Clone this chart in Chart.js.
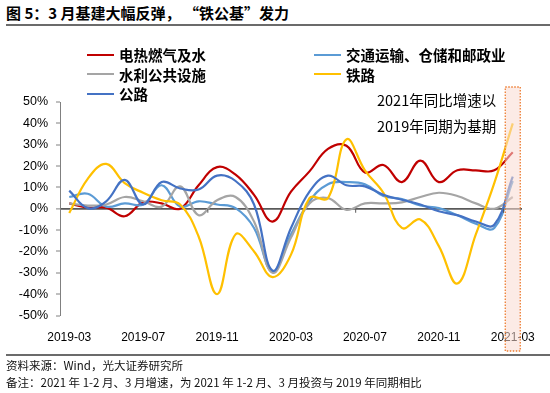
<!DOCTYPE html>
<html>
<head>
<meta charset="utf-8">
<script src="https://cdn.jsdelivr.net/npm/chart.js@4.4.1/dist/chart.umd.min.js"></script>
<style>
  body { margin: 0; width: 550px; height: 393px; position: relative; overflow: hidden; background: #fff;
         font-family: "Noto Sans CJK SC", "Liberation Sans", sans-serif; color: #000; }
  #c { position: absolute; left: 0; top: 0; }
  .abs { position: absolute; white-space: nowrap; }
  #title { left: 6px; top: 3px; font-size: 15px; font-weight: bold; line-height: 20px; }
  .rule { position: absolute; left: 6px; right: 0; height: 2px; background: #6b6b6b; }
  #legend { left: 87px; top: 45px; display: grid; grid-template-columns: 227px auto; row-gap: 0; }
  #legend .item { display: flex; align-items: center; height: 19.5px; font-size: 14.5px; font-weight: bold; }
  #legend .swatch { width: 27px; height: 2px; margin-right: 5px; }
  .note { font-size: 14.5px; line-height: 20px; }
  .foot { font-size: 11.5px; line-height: 16px; left: 6px; color: #111; }
</style>
</head>
<body>
<div id="title" class="abs">图 5：3 月基建大幅反弹， “铁公基”发力</div>
<div class="rule" style="top:24px"></div>

<canvas id="c" width="550" height="393"></canvas>

<div id="legend" class="abs"></div>
<div class="abs note" style="left:377px; top:90px">2021年同比增速以</div>
<div class="abs note" style="left:377px; top:116px">2019年同期为基期</div>

<div class="rule" style="top:354px; height:1.5px"></div>
<div class="abs foot" style="top:357px">资料来源：Wind，光大证券研究所</div>
<div class="abs foot" style="top:374px">备注：2021 年 1-2 月、3 月增速，为 2021 年 1-2 月、3 月投资与 2019 年同期相比</div>

<script>
// ===== 数据 =====
const months = [
  "2019-03","2019-04","2019-05","2019-06","2019-07","2019-08","2019-09","2019-10","2019-11","2019-12",
  "2020-01","2020-02","2020-03","2020-04","2020-05","2020-06","2020-07","2020-08","2020-09","2020-10",
  "2020-11","2020-12","2021-01","2021-02","2021-03"
];

const dianre   = [2.5, 0.5, 0.5, -3.5, 3, 2.5, 0, 11, 19.5, 16, 6.5, -6, 8, 17.5, 28, 29.5, 17, 20.5, 12.5, 22.5, 12.5, 18, 18, 18, 26.5];
const jiaotong = [5.5, 7, 1, 2.5, 2, 11, 1, 3.5, 2, 0.3, -9, -29.5, -12, 3.5, 11.5, 12.5, 11.5, 6, 4.5, 1.5, 0.3, -3, -7, -9, 13];
const shuili   = [2.5, 1.5, 2, 5.5, 3.5, 1, 10.5, -3, 4, 5.5, -6, -30, -13.5, 2.5, 5, -0.5, 2.5, 2.5, 3, 5.5, 7.5, 6, 2.5, 0, 5.5];
const tielu    = [-2, 14, 21, 12, 7.5, 4, 2, -13, -40, -12, -20, -32, -21.5, 5, 5, 32.5, 18, 7.5, -9, -5, -17.5, -35, -12, 12, 40];
const gonglu   = [8.5, 0.3, 3.5, 13.5, 2, 12.5, 9.5, 9, 15.5, 13, 2, -29, -9, 8, 15.5, 11, 10.5, 6.5, 4.2, 2, -1.2, -3, -6, -7.5, 15];

const yTicks = [-50, -40, -30, -20, -10, 0, 10, 20, 30, 40, 50];

// 图例顺序（两列）
const series = [
  { label: "电热燃气及水", data: dianre, color: "#C00000" },
  { label: "交通运输、仓储和邮政业", data: jiaotong, color: "#5B9BD5" },
  { label: "水利公共设施", data: shuili, color: "#A5A5A5" },
  { label: "铁路", data: tielu, color: "#FFC000" },
  { label: "公路", data: gonglu, color: "#4472C4" }
];

/* ============================
      图例
============================ */
const legend = document.getElementById("legend");
series.forEach(s => {
  const item = document.createElement("div");
  item.className = "item";
  item.innerHTML = '<span class="swatch" style="background:' + s.color + '"></span>' + s.label;
  legend.appendChild(item);
});

/* ============================
      虚线框 + 零轴刻度
============================ */
const extras = {
  id: "extras",
  afterDatasetsDraw(chart) {
    const ctx = chart.ctx;
    const x = chart.scales.x, y = chart.scales.y;
    const y0 = y.getPixelForValue(0);

    // 零轴上的小刻度
    ctx.save();
    ctx.strokeStyle = "#595959";
    ctx.lineWidth = 1;
    [7, 15, 23].forEach(i => {
      const px = (x.getPixelForValue(i) + x.getPixelForValue(i + 1)) / 2;
      ctx.beginPath();
      ctx.moveTo(px, y0);
      ctx.lineTo(px, y0 + 4);
      ctx.stroke();
    });

    // 2021-03 高亮框
    const xc = x.getPixelForValue(months.length - 1);
    ctx.fillStyle = "rgba(250, 218, 210, 0.55)";
    ctx.fillRect(xc - 7.5, 87, 15, 264);
    ctx.strokeStyle = "#ED7D31";
    ctx.lineWidth = 1.3;
    ctx.setLineDash([1.5, 1.5]);
    ctx.strokeRect(xc - 7.5, 87, 15, 264);
    ctx.restore();
  }
};

/* ============================
      图表
============================ */
new Chart(document.getElementById("c"), {
  type: "line",
  data: {
    labels: months,
    datasets: series.map(s => ({
      label: s.label,
      data: s.data,
      borderColor: s.color,
      backgroundColor: s.color,
      borderWidth: 2.2,
      tension: 0.4,
      pointRadius: 0,
      fill: false
    })).reverse()
  },
  options: {
    responsive: false,
    animation: false,
    layout: { padding: { top: 102, right: 28, bottom: 0, left: 0 } },
    plugins: { legend: { display: false }, tooltip: { enabled: false } },
    scales: {
      x: {
        offset: true,
        grid: { display: false },
        border: { display: false },
        ticks: {
          autoSkip: false,
          maxRotation: 0,
          padding: 7,
          color: "#000",
          font: { family: "Liberation Sans", size: 12 },
          callback: (v, i) => (i % 4 === 0 ? months[i] : "")
        },
        afterFit: s => { s.height = 393 - 315.5; }
      },
      y: {
        min: -50,
        max: 50,
        afterBuildTicks: s => { s.ticks = yTicks.map(v => ({ value: v })); },
        ticks: {
          padding: 8,
          color: "#000",
          font: { family: "Liberation Sans", size: 12.5 },
          callback: v => v + "%"
        },
        grid: {
          color: c => (c.tick && c.tick.value === 0 ? "#595959" : "transparent"),
          lineWidth: c => (c.tick && c.tick.value === 0 ? 1.8 : 0),
          tickColor: "#808080",
          tickLength: 4,
          tickWidth: 1
        },
        border: { color: "#808080", width: 1 },
        afterFit: s => { s.width = 60; }
      }
    }
  },
  plugins: [extras]
});
</script>
</body>
</html>
